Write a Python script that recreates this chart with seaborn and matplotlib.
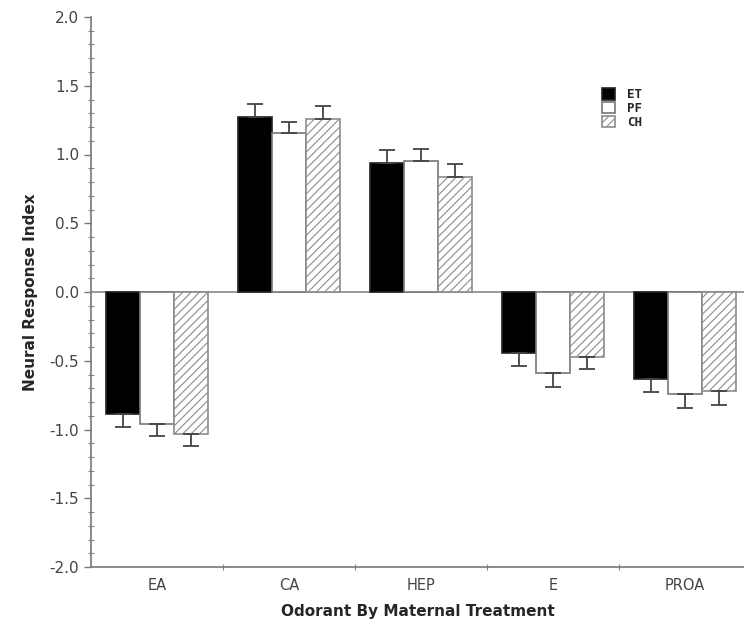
import matplotlib
matplotlib.use("Agg")
import matplotlib.pyplot as plt
from matplotlib.ticker import MultipleLocator, FixedLocator, FormatStrFormatter
import seaborn as sns
import pandas as pd

odorants = ["EA", "CA", "HEP", "E", "PROA"]
treatments = ["ET", "PF", "CH"]
et_vals = [-0.89, 1.27, 0.94, -0.44, -0.63]
pf_vals = [-0.96, 1.16, 0.95, -0.59, -0.74]
ch_vals = [-1.03, 1.26, 0.84, -0.47, -0.72]
et_err = [0.09, 0.10, 0.09, 0.10, 0.10]
pf_err = [0.09, 0.08, 0.09, 0.10, 0.10]
ch_err = [0.09, 0.09, 0.09, 0.09, 0.10]

vals = {"ET": et_vals, "PF": pf_vals, "CH": ch_vals}
errs = {"ET": et_err, "PF": pf_err, "CH": ch_err}
rows = []
for t in treatments:
    for o, v, e in zip(odorants, vals[t], errs[t]):
        rows.append({"odorant": o, "treatment": t, "value": v, "err": e})
df = pd.DataFrame(rows)

sns.set_style("white")
plt.rcParams["font.family"] = ["DejaVu Sans"]
plt.rcParams["hatch.linewidth"] = 0.8

fig = plt.figure(figsize=(7.44, 6.29), dpi=100)
ax = fig.add_axes([91 / 744, 1 - 567 / 629, (744 - 91) / 744, (567 - 17) / 629])

sns.barplot(data=df, x="odorant", y="value", hue="treatment",
            order=odorants, hue_order=treatments,
            palette={"ET": "black", "PF": "white", "CH": "white"},
            width=0.77, errorbar=None, ax=ax, legend=False,
            linewidth=1.2, saturation=1)

styles = {
    "ET": dict(edgecolor="#222222", hatch=None),
    "PF": dict(edgecolor="#777777", hatch=None),
    "CH": dict(edgecolor="#8c8c8c", hatch="////"),
}
for cont, t in zip(ax.containers, treatments):
    for bar in cont:
        bar.set_edgecolor(styles[t]["edgecolor"])
        bar.set_linewidth(1.2)
        if styles[t]["hatch"]:
            bar.set_hatch(styles[t]["hatch"])
    xs = [b.get_x() + b.get_width() / 2 for b in cont]
    ys = [b.get_height() for b in cont]
    e = errs[t]
    lower = [ei if yi < 0 else 0 for yi, ei in zip(ys, e)]
    upper = [ei if yi >= 0 else 0 for yi, ei in zip(ys, e)]
    ax.errorbar(xs, ys, yerr=[lower, upper], fmt="none", ecolor="#444444",
                elinewidth=1.3, capsize=6, capthick=1.3, zorder=1)

ax.axhline(0, color="#888888", lw=1.2, zorder=0.5)

ax.set_xlim(-0.5, (744 - 91) / 132 - 0.5)
ax.set_ylim(-2.0, 2.0)
ax.yaxis.set_major_locator(MultipleLocator(0.5))
ax.yaxis.set_minor_locator(MultipleLocator(0.1))
ax.yaxis.set_major_formatter(FormatStrFormatter("%.1f"))
ax.xaxis.set_minor_locator(FixedLocator([0.5, 1.5, 2.5, 3.5]))

for s in ["top", "right"]:
    ax.spines[s].set_visible(False)
for s in ["left", "bottom"]:
    ax.spines[s].set_color("#777777")
    ax.spines[s].set_linewidth(1.2)

ax.tick_params(axis="y", which="major", direction="out", length=5, width=1,
               color="#777777", labelsize=11, labelcolor="#444444", left=True)
ax.tick_params(axis="y", which="minor", direction="inout", length=4, width=0.8,
               color="#888888", left=True)
ax.tick_params(axis="x", which="major", length=0, labelsize=10.5,
               labelcolor="#444444", pad=8)
ax.tick_params(axis="x", which="minor", direction="inout", length=4, width=0.8,
               color="#888888", bottom=True)

ax.set_xlabel("Odorant By Maternal Treatment", fontsize=11, fontweight="bold",
              labelpad=8)
ax.set_ylabel("Neural Response Index", fontsize=11, fontweight="bold",
              labelpad=8)

handles = list(ax.containers)
leg = ax.legend(handles, treatments, loc="upper left",
                bbox_to_anchor=(596 / 744, 1 - 82 / 629),
                bbox_transform=fig.transFigure, frameon=False,
                handlelength=1.0, handleheight=1.0, labelspacing=0.05,
                handletextpad=1.0, borderpad=0,
                prop={"family": "DejaVu Sans Mono", "size": 9, "weight": "bold"})

fig.savefig("out.png", dpi=100)
